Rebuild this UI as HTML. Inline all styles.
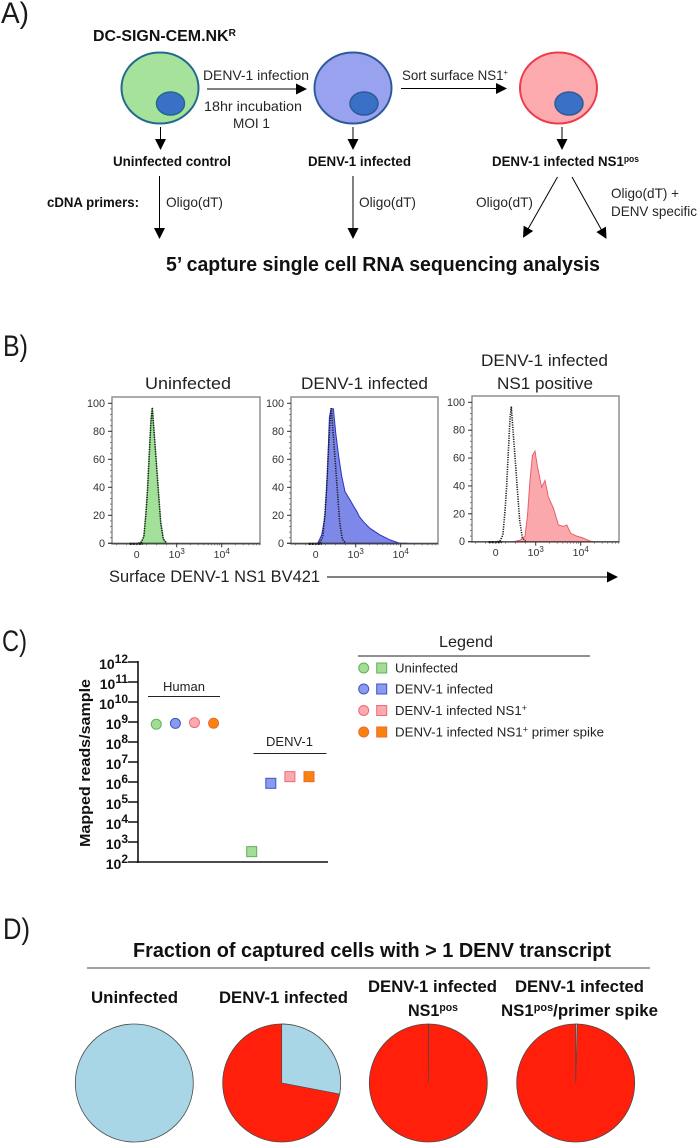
<!DOCTYPE html>
<html lang="en">
<head>
<meta charset="utf-8">
<title>DENV-1 single cell RNA sequencing figure</title>
<style>
html,body{margin:0;padding:0;background:#fff;}
svg{display:block;font-family:"Liberation Sans",Arial,sans-serif;}
.r{font-size:14px;fill:#262626;}
.b{font-size:14px;font-weight:bold;fill:#111;}
.h{font-size:17px;fill:#222;}
.bh{font-size:17px;font-weight:bold;fill:#111;}
.p{font-size:30px;fill:#1a1a1a;}
.l{font-size:13px;fill:#222;}
</style>
</head>
<body>
<svg id="figure" xmlns="http://www.w3.org/2000/svg" width="697" height="1145" viewBox="0 0 697 1145">
<rect width="697" height="1145" fill="#ffffff"/>
<defs>
<marker id="ah" markerUnits="userSpaceOnUse" markerWidth="12" markerHeight="12" refX="10" refY="5.5" orient="auto"><path d="M0 0L11 5.5L0 11Z" fill="#000"/></marker>
</defs>

<!-- Panel A -->
<g>
<text class="p" x="1" y="23" textLength="28" lengthAdjust="spacingAndGlyphs">A)</text>
<text class="b" x="93" y="41" style="font-size:15.5px" textLength="143" lengthAdjust="spacingAndGlyphs">DC-SIGN-CEM.NK<tspan dy="-5" style="font-size:10px">R</tspan></text>

<ellipse cx="160" cy="88" rx="38.5" ry="35.5" fill="#a6e29b" stroke="#1f6a8e" stroke-width="2"/>
<ellipse cx="170.5" cy="103.5" rx="14" ry="11.5" fill="#3a70c6" stroke="#1f6a8e" stroke-width="1.5"/>
<ellipse cx="353" cy="88" rx="38.5" ry="35.5" fill="#98a2ee" stroke="#2f5a98" stroke-width="2"/>
<ellipse cx="364" cy="103.5" rx="14" ry="11.5" fill="#3a70c6" stroke="#2f5a98" stroke-width="1.5"/>
<ellipse cx="558.5" cy="88" rx="38.5" ry="35.5" fill="#fdaaae" stroke="#ee3a4c" stroke-width="2"/>
<ellipse cx="569" cy="103.5" rx="14" ry="11.5" fill="#3a70c6" stroke="#2f5a98" stroke-width="1.5"/>

<g stroke="#000" stroke-width="1" fill="none" marker-end="url(#ah)">
<line x1="207" y1="89" x2="306" y2="89"/>
<line x1="401" y1="88.5" x2="506" y2="88.5"/>
<line x1="160.5" y1="127" x2="160.5" y2="149"/>
<line x1="353" y1="127" x2="353" y2="149"/>
<line x1="562" y1="127" x2="562" y2="149"/>
<line x1="159.5" y1="176" x2="159.5" y2="238"/>
<line x1="353" y1="176" x2="353" y2="238"/>
<line x1="557.5" y1="177" x2="523.5" y2="237"/>
<line x1="572" y1="177" x2="606" y2="238"/>
</g>

<text class="r" x="203" y="80" textLength="106" lengthAdjust="spacingAndGlyphs">DENV-1 infection</text>
<text class="r" x="204" y="111" textLength="98" lengthAdjust="spacingAndGlyphs">18hr incubation</text>
<text class="r" x="233" y="128" textLength="37" lengthAdjust="spacingAndGlyphs">MOI 1</text>
<text class="r" x="402" y="80" textLength="106" lengthAdjust="spacingAndGlyphs">Sort surface NS1<tspan dy="-5" style="font-size:8px">+</tspan></text>

<text class="b" x="113" y="166" textLength="118" lengthAdjust="spacingAndGlyphs">Uninfected control</text>
<text class="b" x="308" y="166" textLength="103" lengthAdjust="spacingAndGlyphs">DENV-1 infected</text>
<text class="b" x="492" y="166" textLength="147" lengthAdjust="spacingAndGlyphs">DENV-1 infected NS1<tspan dy="-4" style="font-size:9px">pos</tspan></text>

<text class="b" x="47" y="207" textLength="92" lengthAdjust="spacingAndGlyphs">cDNA primers:</text>
<text class="r" x="166" y="207" textLength="57" lengthAdjust="spacingAndGlyphs">Oligo(dT)</text>
<text class="r" x="359" y="207" textLength="57" lengthAdjust="spacingAndGlyphs">Oligo(dT)</text>
<text class="r" x="476" y="207" textLength="57" lengthAdjust="spacingAndGlyphs">Oligo(dT)</text>
<text class="r" x="611" y="198" textLength="68" lengthAdjust="spacingAndGlyphs">Oligo(dT) +</text>
<text class="r" x="611" y="216" textLength="86" lengthAdjust="spacingAndGlyphs">DENV specific</text>

<text class="bh" x="166" y="271" style="font-size:20.5px" textLength="434" lengthAdjust="spacingAndGlyphs">5’ capture single cell RNA sequencing analysis</text>
</g>

<!-- Panel B -->
<g id="panel-b">
<text class="p" x="3" y="356" textLength="25" lengthAdjust="spacingAndGlyphs">B)</text>
<text class="h" x="145" y="389" textLength="86" lengthAdjust="spacingAndGlyphs">Uninfected</text>
<text class="h" x="301" y="389" textLength="127" lengthAdjust="spacingAndGlyphs">DENV-1 infected</text>
<text class="h" x="481" y="366" textLength="127" lengthAdjust="spacingAndGlyphs">DENV-1 infected</text>
<text class="h" x="497" y="389" textLength="96" lengthAdjust="spacingAndGlyphs">NS1 positive</text>
<text class="h" x="109" y="582" textLength="211" lengthAdjust="spacingAndGlyphs">Surface DENV-1 NS1 BV421</text>
<line x1="327" y1="577" x2="617" y2="577" stroke="#000" stroke-width="1" marker-end="url(#ah)"/>
</g>

<!-- Panel C -->
<g id="panel-c">
<text class="p" x="2" y="651" textLength="25" lengthAdjust="spacingAndGlyphs">C)</text>
<text transform="translate(90,847) rotate(-90)" style="font-size:15px;font-weight:bold;fill:#111" textLength="168" lengthAdjust="spacingAndGlyphs">Mapped reads/sample</text>
<text class="l" x="163" y="691" textLength="42" lengthAdjust="spacingAndGlyphs">Human</text>
<line x1="148" y1="696.5" x2="220" y2="696.5" stroke="#222" stroke-width="1"/>
<text class="l" x="266" y="746" textLength="47" lengthAdjust="spacingAndGlyphs">DENV-1</text>
<line x1="253.5" y1="753.5" x2="326.5" y2="753.5" stroke="#222" stroke-width="1"/>
</g>

<!-- Legend -->
<g>
<text class="h" x="439" y="647" style="font-size:16px" textLength="54" lengthAdjust="spacingAndGlyphs">Legend</text>
<line x1="358" y1="656" x2="590" y2="656" stroke="#222" stroke-width="1"/>
<g>
<circle cx="363.7" cy="668" r="5" fill="#a3dc94" stroke="#62b05a"/>
<rect x="376.7" y="663" width="10" height="10" fill="#a3dc94" stroke="#62b05a"/>
<text class="l" x="395" y="672.5" textLength="63" lengthAdjust="spacingAndGlyphs">Uninfected</text>
</g>
<g>
<circle cx="363.7" cy="689" r="5" fill="#8a9af0" stroke="#3a55c5"/>
<rect x="376.7" y="684" width="10" height="10" fill="#8a9af0" stroke="#3a55c5"/>
<text class="l" x="395" y="693.5" textLength="98" lengthAdjust="spacingAndGlyphs">DENV-1 infected</text>
</g>
<g>
<circle cx="363.7" cy="710.5" r="5" fill="#fbaab0" stroke="#ec6a78"/>
<rect x="376.7" y="705.5" width="10" height="10" fill="#fbaab0" stroke="#ec6a78"/>
<text class="l" x="395" y="715" textLength="132" lengthAdjust="spacingAndGlyphs">DENV-1 infected NS1<tspan dy="-4" style="font-size:9px">+</tspan></text>
</g>
<g>
<circle cx="363.7" cy="732" r="5" fill="#f9820e" stroke="#ec6a30"/>
<rect x="376.7" y="727" width="10" height="10" fill="#f9820e" stroke="#ec6a30"/>
<text class="l" x="395" y="736.5" textLength="209" lengthAdjust="spacingAndGlyphs">DENV-1 infected NS1<tspan dy="-4" style="font-size:9px">+</tspan><tspan dy="4"> primer spike</tspan></text>
</g>
</g>

<!-- Panel D -->
<g id="panel-d">
<text class="p" x="3" y="939" textLength="27" lengthAdjust="spacingAndGlyphs">D)</text>
<text class="bh" x="133" y="957" style="font-size:20px" textLength="478" lengthAdjust="spacingAndGlyphs">Fraction of captured cells with &gt; 1 DENV transcript</text>
<line x1="87" y1="968" x2="650" y2="968" stroke="#444" stroke-width="1"/>
<text class="bh" x="91" y="1003" textLength="87" lengthAdjust="spacingAndGlyphs">Uninfected</text>
<text class="bh" x="219" y="1003" textLength="129" lengthAdjust="spacingAndGlyphs">DENV-1 infected</text>
<text class="bh" x="368" y="992" textLength="129" lengthAdjust="spacingAndGlyphs">DENV-1 infected</text>
<text class="bh" x="408" y="1016" textLength="50" lengthAdjust="spacingAndGlyphs">NS1<tspan dy="-5" style="font-size:11px">pos</tspan></text>
<text class="bh" x="515" y="992" textLength="129" lengthAdjust="spacingAndGlyphs">DENV-1 infected</text>
<text class="bh" x="501" y="1016" textLength="157" lengthAdjust="spacingAndGlyphs">NS1<tspan dy="-5" style="font-size:11px">pos</tspan><tspan dy="5">/primer spike</tspan></text>
</g>
</svg>

<script>
// Histogram data: fluorescence values and normalised counts
var controlValues = [40,120,180,232,270,308,358,391,432,480,540,600,665,750];
var controlCounts = [0,1,5,22,38,60,88,97,80,62,38,15,3,0];
var uninfectedValues = [40,120,180,232,270,308,358,391,432,480,540,600,665,750];
var uninfectedCounts = [0,1,5,22,38,60,88,97,80,62,38,15,3,0];
var infectedValues = [67,150,233,292,342,383,442,500,575,650,733,858,958,1052,1208,1475,2080,3470,5790,9650,13900];
var infectedCounts = [1,6,19,50,90,96,96,79,62,48,37,31,26,23,19,15.5,10.7,6,2.4,0,0];
var ns1Values = [442,608,733,792,858,917,983,1091,1359,1610,1914,2475,3195,4130,4900,6000,8170,10500,16000,19000];
var ns1Counts = [0,1,4,18,44,62,65,54,39,44,32,24,12,11,12,6,4,3,0.5,0];
var yTickLabels = [0,20,40,60,80,100];
var xTickExponents = [3,4];

// Mapped reads data
var humanReads = [7.7e8,8.5e8,9.3e8,8.7e8];
var denvReads = [330,8.6e5,1.85e6,1.85e6];
var readExponents = [2,3,4,5,6,7,8,9,10,11,12];

// Pie data: percent of cells
var pieNegativePct = [100,28,0.1,0.4];
var piePositivePct = [0,72,99.9,99.6];

var NS = 'http://www.w3.org/2000/svg';
function mk(parent, tag, attrs) {
  var e = document.createElementNS(NS, tag);
  for (var k in attrs) e.setAttribute(k, attrs[k]);
  parent.appendChild(e);
  return e;
}
var panelB = document.getElementById('panel-b');
var panelC = document.getElementById('panel-c');
var panelD = document.getElementById('panel-d');

// ---------- Histograms ----------
function histX(p, v) {
  if (v <= 1000) return p.x0 + 40 * v / 1000;
  return p.x0 + 40 + 45 * Math.log10(v / 1000);
}
function histY(p, c) {
  return p.yZero - (p.yZero - p.yHundred) * c / 100;
}
function areaPath(p, xs, ys) {
  var d = 'M' + histX(p, xs[0]).toFixed(1) + ' ' + p.yZero;
  for (var i = 0; i < xs.length; i++) {
    d += 'L' + histX(p, xs[i]).toFixed(1) + ' ' + histY(p, ys[i]).toFixed(1);
  }
  return d + 'L' + histX(p, xs[xs.length - 1]).toFixed(1) + ' ' + p.yZero + 'Z';
}
function linePath(p, xs, ys) {
  var d = '';
  for (var i = 0; i < xs.length; i++) {
    d += (i ? 'L' : 'M') + histX(p, xs[i]).toFixed(1) + ' ' + histY(p, ys[i]).toFixed(1);
  }
  return d;
}
function drawHistogram(p, xs, ys, fill, stroke) {
  var g = mk(panelB, 'g', {});
  
  

  var box = mk(g, 'rect', {x: p.left, y: p.top, width: p.right - p.left, height: p.bottom - p.top, fill: '#fff', stroke: '#8f8f8f', 'stroke-width': 1.5});
  
  

  var area = mk(g, 'path', {d: areaPath(p, xs, ys), fill: fill, stroke: stroke, 'stroke-width': 1});
  
  

  var ctrl = mk(g, 'path', {d: linePath(p, controlValues, controlCounts), fill: 'none', stroke: '#1c1c1c', 'stroke-width': 1.6, 'stroke-dasharray': '1.2 1.2'});
  
  

  var axis = mk(g, 'line', {x1: p.left - 4, x2: p.right, y1: p.yZero, y2: p.yZero, stroke: '#333', 'stroke-width': 1});
  
  

  var blob = mk(g, 'line', {x1: p.x0 - 7, x2: p.x0 + 6, y1: p.yZero + 0.5, y2: p.yZero + 0.5, stroke: '#111', 'stroke-width': 2.2, 'stroke-dasharray': '2 1'});
  
  

  // y minor ticks
  for (var m = 0; m <= 100; m += 4) {
    var t = mk(g, 'line', {x1: p.left - 2, x2: p.left, y1: histY(p, m), y2: histY(p, m), stroke: '#666', 'stroke-width': 0.8});
    
    
  }
  yTickLabels.forEach(function (lab) {
    var y = histY(p, lab);
    var tk = mk(g, 'line', {x1: p.left - 4, x2: p.left, y1: y, y2: y, stroke: '#333', 'stroke-width': 1});
    
    
    var tx = mk(g, 'text', {x: p.left - 7, y: y + 3.5, 'text-anchor': 'end', 'font-size': 10.8, fill: '#333'});
    
    
    tx.textContent = lab;
  });
  // x minor ticks
  var dec, mult;
  for (dec = 1000; dec <= 10000; dec *= 10) {
    for (mult = 2; mult <= 9; mult++) {
      var xm = histX(p, dec * mult);
      if (xm > p.right) continue;
      var mt = mk(g, 'line', {x1: xm, x2: xm, y1: p.yZero, y2: p.yZero + 2, stroke: '#555', 'stroke-width': 0.7});
      
      
    }
  }
  for (var lv = -500; lv < 1000; lv += 250) {
    var xl = histX(p, lv);
    var lt = mk(g, 'line', {x1: xl, x2: xl, y1: p.yZero, y2: p.yZero + 2, stroke: '#555', 'stroke-width': 0.7});
    
    
  }
  // x labels
  var zero = mk(g, 'text', {x: p.x0, y: p.yZero + 14.5, 'text-anchor': 'middle', 'font-size': 10.5, fill: '#333'});
  
  
  zero.textContent = '0';
  xTickExponents.forEach(function (ex) {
    var x = histX(p, Math.pow(10, ex));
    var tk = mk(g, 'line', {x1: x, x2: x, y1: p.yZero, y2: p.yZero + 4, stroke: '#333', 'stroke-width': 1});
    
    
    var tx = mk(g, 'text', {x: x, y: p.yZero + 14.5, 'text-anchor': 'middle', 'font-size': 10.5, fill: '#333'});
    
    
    tx.appendChild(document.createTextNode('10'));
    var sup = mk(tx, 'tspan', {dy: -4, 'font-size': 8});
    sup.textContent = ex;
  });
}
drawHistogram({left: 112, right: 260, top: 397, bottom: 544, x0: 136.7, yZero: 543.3, yHundred: 403.3}, uninfectedValues, uninfectedCounts, '#a3e09a', '#55b050');
drawHistogram({left: 291, right: 438, top: 397, bottom: 544, x0: 315.7, yZero: 543.3, yHundred: 403.3}, infectedValues, infectedCounts, '#7d88e8', '#2a35c8');
drawHistogram({left: 472, right: 619, top: 396, bottom: 542, x0: 495.7, yZero: 541.7, yHundred: 402.3}, ns1Values, ns1Counts, '#fba8ac', '#e8606c');

// ---------- Mapped reads ----------
function readsY(v) {
  return 862 - 20 * (Math.log10(v) - 2);
}
var axisY = mk(panelC, 'line', {x1: 138, x2: 138, y1: readsY(1e12) - 1, y2: 863, stroke: '#111', 'stroke-width': 1.6});


var axisX = mk(panelC, 'line', {x1: 137, x2: 328, y1: 862, y2: 862, stroke: '#111', 'stroke-width': 1.6});


readExponents.forEach(function (ex) {
  var y = readsY(Math.pow(10, ex));
  var tk = mk(panelC, 'line', {x1: 128, x2: 138, y1: y, y2: y, stroke: '#111', 'stroke-width': 1.5});
  
  
  var tx = mk(panelC, 'text', {x: 128, y: y + 7, 'text-anchor': 'end', 'font-size': 14, 'font-weight': 'bold', fill: '#111'});
  
  
  tx.appendChild(document.createTextNode('10'));
  var sup = mk(tx, 'tspan', {dy: -6, 'font-size': 12});
  sup.textContent = ex;
});
var seriesFill = ['#a3dc94','#8a9af0','#fbaab0','#f9820e'];
var seriesStroke = ['#62b05a','#3a55c5','#ec6a78','#ec6a30'];
function categoryX(start, i) {
  return start + 19.1 * i;
}
humanReads.forEach(function (v, i) {
  var c = mk(panelC, 'circle', {cx: categoryX(156.3, i), cy: readsY(v), r: 5, fill: seriesFill[i], stroke: seriesStroke[i], 'stroke-width': 1});
  
  
});
denvReads.forEach(function (v, i) {
  var s = mk(panelC, 'rect', {x: categoryX(251.7, i) - 5, y: readsY(v) - 5, width: 10, height: 10, fill: seriesFill[i], stroke: seriesStroke[i], 'stroke-width': 1});
  
  
});

// ---------- Pies ----------
function drawPie(cx, cy, r, neg, pos) {
  var total = neg + pos;
  var frac = neg / total;
  var g = mk(panelD, 'g', {});
  
  
  var base = mk(g, 'circle', {cx: cx, cy: cy, r: r, fill: frac >= 1 ? '#a8d6e6' : '#ff1f0a', stroke: '#4a4a4a', 'stroke-width': 0.8});
  
  
  if (frac > 0 && frac < 1) {
    var a = frac * 2 * Math.PI;
    var ex = cx + r * Math.sin(a);
    var ey = cy - r * Math.cos(a);
    var d = 'M' + cx + ' ' + cy + 'L' + cx + ' ' + (cy - r) + 'A' + r + ' ' + r + ' 0 ' + (frac > 0.5 ? 1 : 0) + ' 1 ' + ex.toFixed(2) + ' ' + ey.toFixed(2) + 'Z';
    var w = mk(g, 'path', {d: d, fill: '#a8d6e6', stroke: '#4a4a4a', 'stroke-width': 0.7});
    
    
  }
}
var pieCenters = [134.3, 281.7, 428.3, 575.7];
pieNegativePct.forEach(function (n, i) {
  drawPie(pieCenters[i], 1083, 59, n, piePositivePct[i]);
});
</script>
</body>
</html>
